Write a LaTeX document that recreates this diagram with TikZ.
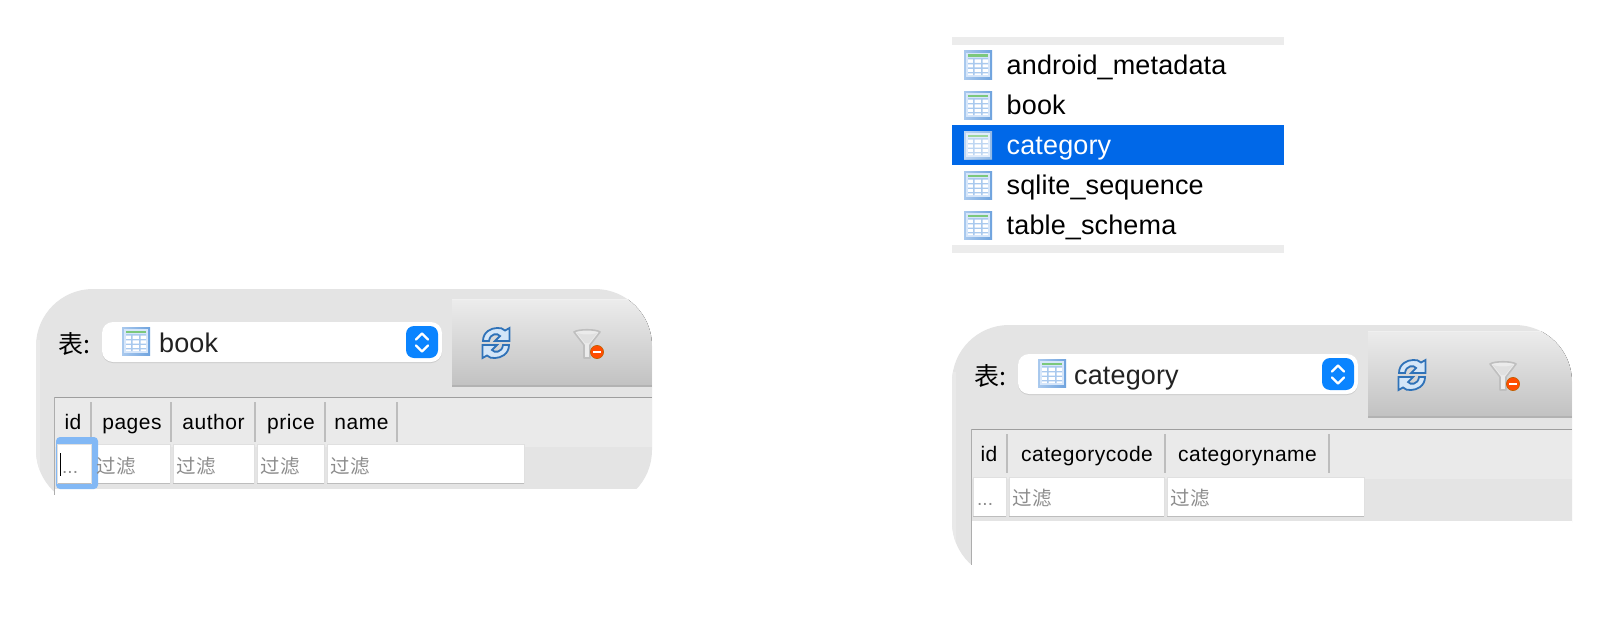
\documentclass[tikz,border=0pt]{standalone}
\usepackage{fontspec}
\setmainfont{Liberation Sans}
\newfontfamily\hdrf[LetterSpace=2.5]{Liberation Sans}
\newfontfamily\lstf[LetterSpace=0.5]{Liberation Sans}
\newfontfamily\cjkf{Noto Sans CJK SC}
\definecolor{panelc}{HTML}{E4E4E4}
\definecolor{stripc}{HTML}{E9E9E9}
\definecolor{headc}{HTML}{EAEAEA}
\definecolor{linec}{HTML}{9E9E9E}
\definecolor{sepc}{HTML}{BDBDBD}
\definecolor{selc}{HTML}{0068E8}
\definecolor{barc}{HTML}{ECECEC}
\definecolor{ringc}{HTML}{82B8F5}
\definecolor{iconb}{HTML}{6FA3DE}
\definecolor{iconl}{HTML}{A9C9EE}
\definecolor{iconf}{HTML}{D6E6FA}
\definecolor{icong}{HTML}{7CC87C}
\definecolor{refd}{HTML}{2F72B8}
\definecolor{refl}{HTML}{D4E6F8}
\definecolor{txtc}{HTML}{222222}
\definecolor{ghost}{HTML}{8C8C8C}
\definecolor{btnc}{HTML}{0A84FF}
\tikzset{
  x=1pt,y=-1pt,
  coltxt/.style={anchor=base,font=\hdrf\fontsize{21}{21}\selectfont,text=black,inner sep=0pt},
  listtxt/.style={anchor=base west,font=\lstf\fontsize{27}{27}\selectfont,text=black,inner sep=0pt},
  combotxt/.style={anchor=base west,font=\lstf\fontsize{27}{27}\selectfont,text=txtc,inner sep=0pt},
  biao/.style={anchor=center,font=\cjkf\fontsize{25}{25}\selectfont,text=black,inner sep=0pt},
  filt/.style={anchor=west,font=\cjkf\fontsize{19.5}{20}\selectfont,text=ghost,inner sep=0pt},
  dots/.style={anchor=base west,font=\fontsize{19}{19}\selectfont,text=ghost,inner sep=0pt},
  sepl/.style={draw=sepc,line width=1.5pt},
  chev/.style={draw=white,line width=2.4pt,line cap=round,line join=round},
}
% table icon: left, top
\newcommand{\tabicon}[2]{%
 \begin{scope}[shift={(#1,#2)}]
  \fill[left color=iconl,right color=iconb] (0,0) rectangle (28,28);
  \fill[iconf] (2,2) rectangle (26,26);
  \fill[icong] (4,3.5) rectangle (24,5.8);
  \fill[white] (4,7) rectangle (24,24);
  \fill[iconl] (9,7) rectangle (10.5,24) (17,7) rectangle (18.5,24)
     (4,7) rectangle (24,8.5) (4,12) rectangle (24,13.3) (4,16.5) rectangle (24,17.8) (4,21) rectangle (24,22.3);
 \end{scope}}
% refresh + funnel: dx, dy relative to the left panel
\newcommand{\tools}[2]{%
 \begin{scope}[shift={(#1,#2)}]
  \foreach \r in {0,180}{
   \begin{scope}[shift={(496,343)},rotate=\r]
    \filldraw[fill=refl,draw=refd,line width=1.8pt,line join=miter]
      (-13,-2) .. controls (-13,-11) and (-5,-15) .. (1,-15)
      .. controls (4,-15) and (7,-15) .. (9,-12.5) -- (13.5,-15) -- (13.5,-2) -- (-1,-2) -- (4,-7)
      .. controls (2,-10) and (-6,-10) .. (-7,-2) -- cycle;
   \end{scope}}
  \filldraw[fill=white!92!black,draw=black!25,line width=1.6pt,line join=round]
    (574,332) .. controls (578,329) and (596,329) .. (600,332)
    -- (590,345) -- (590,358) -- (584,358) -- (584,345) -- cycle;
  \fill[black!12] (577,333) .. controls (582,335) and (592,335) .. (597,333) -- (589,343) -- (585,343) -- cycle;
  \fill[orange!60!red,draw=orange!75!black,line width=.6pt] (597,352) circle (6.6);
  \fill[white] (593,350.7) rectangle (601,353.3);
 \end{scope}}
% cell: left, top, right, bottom
\newcommand{\cell}[4]{%
  \filldraw[fill=white,draw=black!12,line width=.8pt] (#1,#2) rectangle (#3,#4);
  \draw[black!26,line width=1pt] (#1,#4) -- (#3,#4);}
% combo box at dx, dy
\newcommand{\combo}[2]{%
 \begin{scope}[shift={(#1,#2)}]
  \fill[black!20,rounded corners=11pt] (102,323) rectangle (442,363);
  \fill[white,rounded corners=11pt] (102,322) rectangle (442,362);
  \fill[btnc,rounded corners=8pt] (406,326) rectangle (438,358);
  \draw[chev] (416,339.5) -- (422,333.5) -- (428,339.5);
  \draw[chev] (416,345.5) -- (422,351.5) -- (428,345.5);
 \end{scope}}
\begin{document}
\begin{tikzpicture}
\useasboundingbox (0,0) rectangle (1608,618);
\fill[white] (0,0) rectangle (1608,618);

% ---- left panel ----
\fill[panelc,rounded corners=57pt] (36,289) rectangle (652,507);
\begin{scope}
 \clip[rounded corners=57pt] (36,289) rectangle (652,507);
 \fill[stripc] (36,340) rectangle (40,507);
 \fill[top color=barc,bottom color=black!24] (452,299) rectangle (652,385);
 \fill[white!94!black] (452,299) rectangle (652,300);
 \fill[black!30] (452,385) rectangle (652,387);
\end{scope}
\fill[white] (55,489) rectangle (652,510);
\fill[white] (36,496) rectangle (55,510);
\fill[headc] (54,397) rectangle (652,447);
\draw[linec,line width=1pt] (54,397) -- (652,397);
\draw[linec!85,line width=1pt] (54,397) -- (54,495);
\foreach \s in {91,171,255,325,397} \draw[sepl] (\s,402) -- (\s,442);
\node[coltxt] (lid) at (73,429) {id};
\node[coltxt] (lpages) at (132,429) {pages};
\node[coltxt] (lauthor) at (213.5,429) {author};
\node[coltxt] (lprice) at (291,429) {price};
\node[coltxt] (lname) at (361.5,429) {name};
\cell{93.3}{444}{170}{483}
\cell{173.3}{444}{254}{483}
\cell{257.3}{444}{324}{483}
\cell{327.3}{444}{524}{483}
\fill[ringc,rounded corners=4pt] (56,437) rectangle (98,489);
\cell{57.5}{444}{91}{483}
\node[dots] (ldots) at (62,473) {...};
\draw[black,line width=1.6pt] (60.5,453) -- (60.5,476);
\node[filt] (lf1) at (96.5,466) {过滤};
\node[filt] (lf2) at (176.5,466) {过滤};
\node[filt] (lf3) at (260.5,466) {过滤};
\node[filt] (lf4) at (330.5,466) {过滤};
\node[biao] (lb) at (74.5,344) {表:};
\combo{0}{0}
\tabicon{122}{327}
\node[combotxt] (lcombo) at (159,352) {book};
\tools{0}{0}

% ---- list ----
\fill[barc] (952,37) rectangle (1284,45);
\fill[barc] (952,245) rectangle (1284,253);
\fill[selc] (952,125) rectangle (1284,165);
\tabicon{964}{51}
\tabicon{964}{91}
\tabicon{964}{131}
\tabicon{964}{171}
\tabicon{964}{211}
\fill[white,opacity=.25] (964,131) rectangle (992,159);
\node[listtxt] (t1) at (1006.5,74.5) {android\_metadata};
\node[listtxt] (t2) at (1006.5,114) {book};
\node[listtxt,text=white] (t3) at (1006.5,154) {category};
\node[listtxt] (t4) at (1006.5,194) {sqlite\_sequence};
\node[listtxt] (t5) at (1006.5,234) {table\_schema};

% ---- right panel ----
\fill[panelc,rounded corners=57pt] (952,325) rectangle (1572,579);
\begin{scope}
 \clip[rounded corners=57pt] (952,325) rectangle (1572,579);
 \fill[stripc] (952,372) rectangle (956,579);
 \fill[top color=barc,bottom color=black!24] (1368,331) rectangle (1572,416);
 \fill[white!94!black] (1368,331) rectangle (1572,332);
 \fill[black!30] (1368,416) rectangle (1572,418);
\end{scope}
\fill[white] (971,521) rectangle (1572,582);
\fill[headc] (971,429) rectangle (1572,479);
\draw[linec,line width=1pt] (971,429) -- (1572,429);
\draw[linec!85,line width=1pt] (971,429) -- (971,565);
\foreach \s in {1007,1165,1329} \draw[sepl] (\s,434) -- (\s,473);
\node[coltxt] (rid) at (989,461) {id};
\node[coltxt] (rcode) at (1087,461) {categorycode};
\node[coltxt] (rname) at (1247.5,461) {categoryname};
\cell{973.3}{477}{1006}{516}
\cell{1009.3}{477}{1164}{516}
\cell{1167.3}{477}{1364}{516}
\node[dots] (rdots) at (977,505) {...};
\node[filt] (rf1) at (1012.5,498) {过滤};
\node[filt] (rf2) at (1170.5,498) {过滤};
\node[biao] (rb) at (990.5,376) {表:};
\combo{916}{32}
\tabicon{1038}{359}
\node[combotxt] (rcombo) at (1074,384) {category};
\tools{916}{32}
\end{tikzpicture}
\end{document}
